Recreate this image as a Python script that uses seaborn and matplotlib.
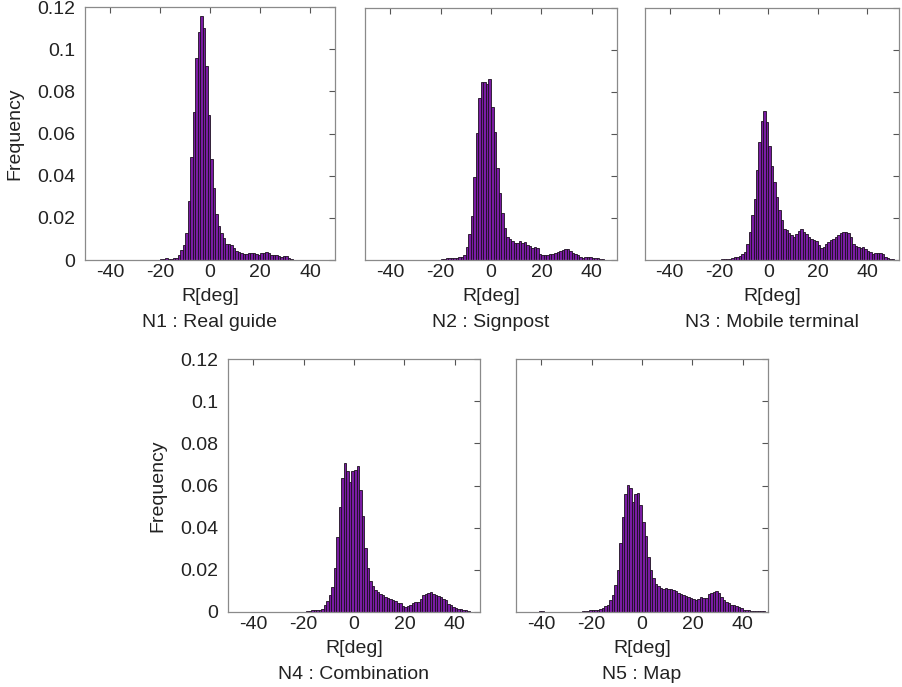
import numpy as np
import pandas as pd
import matplotlib
matplotlib.use("Agg")
import matplotlib.pyplot as plt
import seaborn as sns

# ---------------- data (1-degree bins, value = relative frequency) ----------------
n1_start = -20
n1_freq = [0.0003, 0.0006, 0.0008, 0.0006, 0.0006, 0.001, 0.001, 0.0022, 0.0046, 0.007,
           0.013, 0.028, 0.049, 0.070, 0.096, 0.108, 0.1156, 0.110, 0.092, 0.069,
           0.048, 0.034, 0.022, 0.016, 0.013, 0.0105, 0.0077, 0.0074, 0.0072, 0.0057,
           0.0043, 0.0038, 0.0033, 0.0027, 0.0027, 0.0033, 0.0031, 0.0033, 0.003, 0.0025,
           0.0033, 0.0031, 0.0038, 0.0035, 0.0025, 0.0022, 0.0024, 0.0019, 0.0014, 0.0019,
           0.002, 0.001, 0.0003, 0.0002, 0.0002, 0.0001, 0.0, 0.0002, 0.0002, 0.0,
           0.0002, 0.0002]

n2_start = -32
n2_freq = [0.0002, 0.0002, 0.0, 0.0002, 0.0002, 0.0, 0.0, 0.0, 0.0, 0.0,
           0.0, 0.0, 0.0004, 0.0006, 0.0008, 0.001, 0.0009, 0.001, 0.0008, 0.0012,
           0.0013, 0.0025, 0.006, 0.0122, 0.021, 0.0397, 0.0606, 0.077, 0.085, 0.0846,
           0.0838, 0.086, 0.073, 0.061, 0.0437, 0.032, 0.0222, 0.0154, 0.0108, 0.0098,
           0.0092, 0.0083, 0.008, 0.0089, 0.0083, 0.0084, 0.0071, 0.0068, 0.0059, 0.0063,
           0.0056, 0.0027, 0.0024, 0.0024, 0.0025, 0.0027, 0.0027, 0.0032, 0.0037, 0.0044,
           0.0050, 0.0054, 0.0052, 0.0044, 0.0032, 0.0027, 0.0024, 0.0013, 0.0011, 0.0013,
           0.0016, 0.0013, 0.001, 0.0008, 0.0008, 0.0006, 0.0005, 0.0002]

n3_start = -19
n3_freq = [0.0003, 0.0003, 0.0005, 0.0006, 0.0011, 0.0016, 0.0016, 0.0019, 0.0027, 0.004,
           0.0075, 0.0132, 0.0214, 0.029, 0.043, 0.056, 0.066, 0.071, 0.0656, 0.0544,
           0.045, 0.037, 0.030, 0.0238, 0.019, 0.0146, 0.0143, 0.0127, 0.0117, 0.0111,
           0.0124, 0.0138, 0.0146, 0.0135, 0.0124, 0.0108, 0.010, 0.0095, 0.0092, 0.0071,
           0.0059, 0.0063, 0.0075, 0.0084, 0.0095, 0.0101, 0.0108, 0.0119, 0.013, 0.0135,
           0.0135, 0.0127, 0.0108, 0.0076, 0.0068, 0.006, 0.0059, 0.006, 0.0051, 0.0044,
           0.0037, 0.0029, 0.0032, 0.0032, 0.0032, 0.0029, 0.0016, 0.0008, 0.0003, 0.0003]

n4_start = -19
n4_freq = [0.0003, 0.0003, 0.0008, 0.0008, 0.0011, 0.0011, 0.0016, 0.0032, 0.0054, 0.008,
           0.0119, 0.021, 0.0355, 0.050, 0.0636, 0.0707, 0.0668, 0.0617, 0.0668, 0.0672,
           0.0692, 0.058, 0.0453, 0.0305, 0.0207, 0.0146, 0.0122, 0.0103, 0.0095, 0.0086,
           0.008, 0.0073, 0.0068, 0.0064, 0.0056, 0.0052, 0.0045, 0.0043, 0.0027, 0.0025,
           0.0027, 0.0032, 0.0045, 0.0048, 0.0046, 0.006, 0.008, 0.0087, 0.0092, 0.0095,
           0.0087, 0.0083, 0.0076, 0.0072, 0.0064, 0.0056, 0.004, 0.0032, 0.0024, 0.0019,
           0.0016, 0.0013, 0.0011, 0.0008, 0.0003]

n5_start = -47
n5_freq = [0.0002, 0.0002, 0.0, 0.0002, 0.0, 0.0, 0.0003, 0.0003, 0.0002, 0.0,
           0.0, 0.0, 0.0, 0.0, 0.0, 0.0, 0.0, 0.0, 0.0, 0.0,
           0.0, 0.0, 0.0, 0.0005, 0.0005, 0.0005, 0.0008, 0.0008, 0.0011, 0.0011,
           0.0016, 0.0021, 0.0027, 0.0035, 0.0056, 0.008, 0.0127, 0.0198, 0.0325, 0.0449,
           0.0559, 0.0603, 0.059, 0.0524, 0.0559, 0.0563, 0.0508, 0.0425, 0.0362, 0.0262,
           0.0198, 0.0159, 0.0135, 0.0124, 0.0116, 0.0111, 0.0114, 0.0108, 0.0111, 0.0106,
           0.010, 0.0092, 0.0087, 0.0083, 0.0076, 0.0071, 0.0068, 0.0063, 0.0056, 0.0063,
           0.0071, 0.0067, 0.0067, 0.0087, 0.009, 0.0095, 0.010, 0.009, 0.0071, 0.0056,
           0.0048, 0.0043, 0.0035, 0.0032, 0.0027, 0.0024, 0.0019, 0.0011, 0.0008, 0.0008,
           0.0005, 0.0005, 0.0006, 0.0006, 0.0005, 0.0005]

titles = ["N1 : Real guide", "N2 : Signpost", "N3 : Mobile terminal",
          "N4 : Combination", "N5 : Map"]
x_ticks = [-40, -20, 0, 20, 40]
y_ticks = [0, 0.02, 0.04, 0.06, 0.08, 0.1, 0.12]
y_tick_labels = ["0", "0.02", "0.04", "0.06", "0.08", "0.1", "0.12"]
x_label = "R[deg]"
y_label = "Frequency"

# ---------------- style ----------------
sns.set_theme(style="white")
plt.rcParams["font.family"] = ["Liberation Sans", "DejaVu Sans"]
plt.rcParams["axes.unicode_minus"] = False

W, H = 902, 687
fig = plt.figure(figsize=(W / 100, H / 100), dpi=100)


def rect(l, r, t, b):
    return [l / W, 1 - b / H, (r - l) / W, (b - t) / H]


panels = [
    (n1_start, n1_freq, rect(85, 335, 7, 260), (-50, 50), True),
    (n2_start, n2_freq, rect(365, 617, 8, 260), (-50, 50), False),
    (n3_start, n3_freq, rect(645, 899, 8, 260), (-50, 53), False),
    (n4_start, n4_freq, rect(228, 480, 359, 612), (-50, 50), True),
    (n5_start, n5_freq, rect(516, 768, 359, 612), (-50, 50), False),
]

bar_color = "#7a1ca3"
edge_color = "#1c1020"
spine_color = "#8a8a8a"
fs = 14

for (start, freq, pos, xlim, show_y), title in zip(panels, titles):
    ax = fig.add_axes(pos)
    n = len(freq)
    df = pd.DataFrame({"R": start + 0.5 + np.arange(n), "freq": np.asarray(freq, float)})
    sns.histplot(data=df, x="R", weights="freq", binwidth=1.0,
                 binrange=(start, start + n), ax=ax, color=bar_color,
                 edgecolor=edge_color, linewidth=0.6, alpha=1.0, stat="count")
    for p in ax.patches:
        if p.get_height() <= 0:
            p.set_visible(False)
    ax.set_xlim(*xlim)
    ax.set_ylim(0, 0.12)
    ax.set_xticks(x_ticks)
    ax.set_xticklabels([str(t) for t in x_ticks], fontsize=fs, color="#222222")
    ax.set_yticks(y_ticks)
    if show_y:
        ax.set_yticklabels(y_tick_labels, fontsize=fs, color="#222222")
        ax.set_ylabel(y_label, fontsize=fs, color="#222222", labelpad=10)
    else:
        ax.set_yticklabels([])
        ax.set_ylabel("")
    ax.set_xlabel(x_label, fontsize=fs, color="#222222", labelpad=5)
    ax.tick_params(axis="both", direction="in", length=4, width=0.8,
                   color="#555555", top=True, right=True)
    ax.tick_params(axis="x", pad=3)
    ax.tick_params(axis="y", pad=7)
    for s in ax.spines.values():
        s.set_color(spine_color)
        s.set_linewidth(0.9)
        s.set_visible(True)
    ax.text(0.5, -0.249, title, transform=ax.transAxes, ha="center", va="center",
            fontsize=fs, color="#222222")

fig.savefig("out.png", dpi=100)
